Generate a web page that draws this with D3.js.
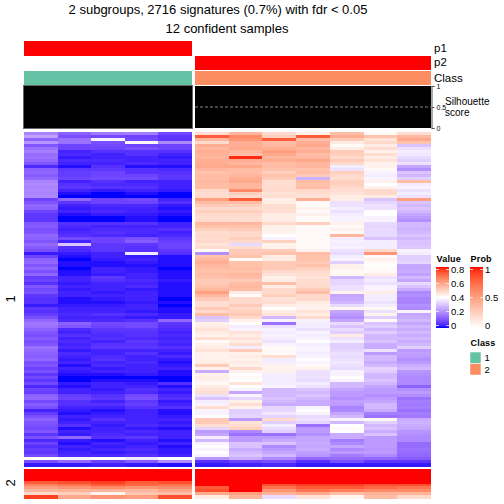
<!DOCTYPE html>
<html><head><meta charset="utf-8">
<script src="https://cdn.jsdelivr.net/npm/d3@7"></script>
<style>html,body{margin:0;padding:0;background:#fff}svg{display:block}text{font-family:"Liberation Sans",Arial,sans-serif;fill:#000}</style>
</head><body><svg id="c" width="504" height="504"></svg>
<script>
const titleLines = ["2 subgroups, 2716 signatures (0.7%) with fdr < 0.05", "12 confident samples"];
const samplesGroup1 = ["s1","s2","s3","s4","s5"];
const samplesGroup2 = ["s6","s7","s8","s9","s10","s11","s12"];
const p1Values = [1,1,1,1,1,0,0,0,0,0,0,0];
const p2Values = [0,0,0,0,0,1,1,1,1,1,1,1];
const classValues = [1,1,1,1,1,2,2,2,2,2,2,2];
const silhouetteValues = [1,1,1,1,1,1,1,1,1,1,1,1];
const silhouetteTicks = [0,0.5,1];
const valueTicks = [0,0.2,0.4,0.6,0.8];
const probTicks = [0,0.5,1];
const classColors = {1:"#66c2a5",2:"#fc8d62"};
const annotationNames = ["p1","p2","Class"];
// values ×100, one row per 3-pixel slice of the picture: five samples of group 1, seven of group 2
const cluster1Rows = [
[19,13,17,18,9,47,55,48,43,54,41,47],
[24,10,9,8,6,72,64,50,72,57,53,55],
[13,16,38,9,6,55,62,72,54,51,46,58],
[22,16,10,39,20,48,57,54,57,44,48,53],
[11,8,9,8,8,57,57,55,58,41,44,30],
[16,8,8,10,8,55,58,57,55,44,47,35],
[18,3,5,5,5,57,55,60,57,51,43,37],
[15,4,3,5,3,56,54,58,54,50,47,36],
[16,2,3,3,2,55,78,55,55,48,44,34],
[14,4,4,3,3,57,57,57,58,51,46,32],
[11,3,3,4,3,57,55,54,55,48,43,35],
[4,1,5,1,1,58,58,54,55,37,43,25],
[13,6,6,5,4,55,54,53,53,35,41,21],
[14,7,8,5,5,53,54,50,54,50,38,30],
[12,7,8,8,6,54,55,53,51,48,37,28],
[14,8,9,9,6,54,57,51,27,47,38,32],
[19,3,5,3,3,55,58,47,54,50,43,54],
[20,5,4,4,3,54,55,47,53,50,40,37],
[19,6,5,5,3,54,55,47,54,48,43,38],
[20,3,2,3,2,48,64,48,48,47,48,35],
[19,1,0,1,0,47,50,46,47,46,48,37],
[20,0,0,0,0,48,48,47,46,44,44,35],
[8,14,8,9,3,60,72,43,57,44,30,60],
[11,6,8,8,5,54,54,44,41,35,33,30],
[14,3,4,4,2,51,50,47,41,35,35,28],
[13,2,3,3,1,48,48,47,43,37,35,30],
[8,3,4,3,2,50,50,47,41,35,40,28],
[6,1,2,2,1,48,48,44,43,37,40,25],
[6,0,0,1,0,47,47,44,41,38,38,23],
[6,0,0,1,0,48,47,44,41,38,38,21],
[11,5,5,5,3,55,55,48,50,43,34,28],
[12,4,3,3,3,53,53,43,41,41,33,28],
[10,3,4,4,5,50,51,43,41,43,34,27],
[11,4,5,4,3,47,48,43,41,41,34,28],
[14,5,4,3,4,48,48,40,41,55,34,30],
[13,9,8,10,6,47,50,38,41,37,30,28],
[11,3,8,12,7,48,48,50,41,38,37,30],
[14,30,6,6,8,46,34,43,41,37,37,30],
[12,5,6,5,8,47,47,43,41,38,37,31],
[10,4,6,5,6,41,51,51,43,35,48,38],
[2,2,3,36,5,21,51,53,54,34,62,37],
[8,1,3,2,1,53,53,44,53,37,41,32],
[13,0,2,3,1,55,41,44,53,38,43,32],
[14,1,1,2,1,57,53,51,51,32,41,33],
[11,1,1,1,1,55,53,51,53,43,40,25],
[14,0,3,2,0,54,54,51,50,43,41,25],
[10,1,3,2,1,53,53,48,48,41,41,26],
[14,1,2,3,1,54,55,46,47,42,44,24],
[7,3,6,3,1,53,54,43,46,28,35,28],
[8,3,5,4,2,51,51,44,47,33,37,25],
[5,2,3,3,1,51,54,54,47,33,35,34],
[11,3,3,4,1,53,55,44,48,35,38,30],
[9,2,3,2,1,55,54,48,51,35,38,26],
[10,3,2,3,1,60,44,48,54,43,44,20],
[6,3,3,3,1,55,41,50,48,25,37,21],
[5,1,2,3,0,51,48,46,48,26,37,19],
[5,1,1,2,1,47,48,47,44,28,35,19],
[2,2,2,3,0,47,51,44,43,34,37,21],
[6,3,3,3,1,51,48,40,43,42,41,20],
[5,3,3,2,1,48,50,44,46,25,35,38],
[7,4,5,4,2,54,51,46,44,23,43,25],
[10,3,3,2,2,30,48,28,48,21,32,26],
[14,4,4,5,14,32,43,38,38,25,41,28],
[17,13,9,9,6,43,40,16,37,34,30,25],
[16,11,8,9,5,44,37,35,37,30,32,28],
[13,4,6,6,4,46,38,38,35,34,28,26],
[11,3,5,5,3,44,46,37,38,32,32,28],
[10,5,4,5,4,43,44,38,37,44,28,26],
[12,3,5,4,3,47,46,37,38,35,28,28],
[10,4,3,6,4,41,44,35,40,37,30,26],
[11,3,5,5,3,43,47,38,37,32,26,28],
[16,4,6,6,5,44,37,41,38,32,26,32],
[14,2,3,3,3,46,51,41,38,33,35,23],
[13,4,3,5,2,43,43,41,37,35,23,24],
[12,3,4,3,4,43,44,47,38,34,28,23],
[14,2,5,3,2,43,43,37,40,35,28,21],
[10,3,3,4,1,44,44,37,38,36,26,23],
[11,1,4,3,2,51,43,43,41,35,28,26],
[8,3,2,3,3,43,48,43,43,34,33,28],
[10,2,3,3,1,26,43,43,35,38,32,22],
[6,1,1,2,1,43,40,37,35,38,28,21],
[9,0,0,0,0,44,41,37,35,40,28,20],
[6,0,1,1,0,43,40,37,34,38,30,20],
[9,2,3,2,5,41,46,37,37,28,28,20],
[4,1,3,3,1,44,40,38,35,28,25,13],
[8,3,2,5,3,46,38,28,30,25,23,21],
[7,3,3,4,2,47,25,28,28,23,23,23],
[13,7,5,9,4,35,38,28,30,23,21,21],
[14,8,6,10,5,30,33,30,28,21,23,16],
[9,5,3,6,2,37,43,28,26,24,25,18],
[12,5,5,7,3,38,47,26,26,23,28,17],
[10,3,3,5,5,47,43,33,38,19,28,18],
[3,2,1,3,1,38,32,33,40,20,26,16],
[7,1,2,3,1,38,32,36,38,25,18,18],
[10,3,3,3,2,40,33,33,34,28,16,17],
[13,2,5,3,3,51,23,48,35,38,41,26],
[11,3,3,3,2,51,46,32,33,28,32,27],
[10,5,2,4,3,47,47,37,16,40,28,26],
[9,1,3,2,1,33,50,34,23,41,30,25],
[11,3,3,4,3,23,20,32,23,40,26,22],
[6,2,4,3,3,25,16,16,21,26,30,21],
[10,14,5,6,3,37,23,23,25,26,23,20],
[4,2,1,3,1,28,23,26,25,18,23,20],
[8,1,3,2,3,38,30,30,26,20,23,15],
[5,3,2,3,1,40,30,20,25,25,23,15],
[7,2,3,4,2,38,26,23,26,20,22,16],
[6,3,2,3,2,40,28,25,24,23,23,15],
[9,4,4,5,3,38,30,28,22,18,20,14],
[40,38,40,36,40,22,26,20,14,15,14,12],
[10,14,8,12,20,5,8,10,5,10,6,6],
[2,2,3,2,1,2,3,4,2,2,2,2]
];
const cluster2Rows = [
[80,80,80,80,80,80,80,80,80,80,80,80],
[80,80,80,80,80,80,80,80,80,80,80,80],
[80,80,80,80,80,80,80,80,80,80,80,80],
[80,80,80,80,80,80,80,80,80,80,80,80],
[72,74,76,72,74,80,80,80,80,80,80,80],
[66,68,72,70,68,80,80,74,76,76,74,74],
[60,62,64,62,64,72,80,68,72,72,70,68],
[55,56,56,55,58,74,80,62,68,66,64,64],
[48,50,42,52,54,58,60,56,58,54,56,56],
[76,58,62,60,74,44,56,34,46,42,54,48]
];

const svg = d3.select("#c");
const allSamples = samplesGroup1.concat(samplesGroup2);
const xGroup1 = d3.scaleBand().domain(samplesGroup1).range([24,192]);
const xGroup2 = d3.scaleBand().domain(samplesGroup2).range([195,431]);
const xOf = s => samplesGroup1.includes(s) ? xGroup1(s) : xGroup2(s);
const wOf = s => samplesGroup1.includes(s) ? xGroup1.bandwidth() : xGroup2.bandwidth();

const valueColor = d3.scaleLinear().domain([0,0.4,0.8]).range(["#0000ff","#ffffff","#ff0000"]).interpolate(d3.interpolateLab).clamp(true);
const probColor = d3.scaleLinear().domain([0,1]).range(["#ffffff","#ff0000"]).interpolate(d3.interpolateLab);

// title
const titleCentres = [218,227];
svg.selectAll("text.title").data(titleLines).join("text").attr("class","title")
  .attr("x",(d,i)=>titleCentres[i]).attr("y",(d,i)=>14+i*19).attr("text-anchor","middle")
  .attr("font-size",13).text(d=>d);

// annotation tracks
const track = (vals,y0,h,col) => svg.append("g").attr("shape-rendering","crispEdges")
  .selectAll("rect").data(allSamples).join("rect")
  .attr("x",xOf).attr("width",wOf).attr("y",y0).attr("height",h)
  .attr("fill",(s,i)=>col(vals[i]));
track(p1Values,41,15,probColor);
track(p2Values,56,14,probColor);
track(classValues,71,14,v=>classColors[v]);

// silhouette
const ySil = d3.scaleLinear().domain([0,1]).range([128,86]);
svg.append("g").attr("shape-rendering","crispEdges").selectAll("rect").data(allSamples).join("rect")
  .attr("x",xOf).attr("width",wOf).attr("y",(s,i)=>ySil(silhouetteValues[i]))
  .attr("height",(s,i)=>ySil(0)-ySil(silhouetteValues[i])).attr("fill","#000");
const g1Range = xGroup1.range();
svg.append("rect").attr("x",g1Range[0]-0.5).attr("y",85.5).attr("width",g1Range[1]-g1Range[0]+1).attr("height",43)
  .attr("fill","none").attr("stroke","#666").attr("stroke-width",1).attr("shape-rendering","crispEdges");
svg.append("line").attr("x1",195).attr("x2",431).attr("y1",ySil(0.5)).attr("y2",ySil(0.5))
  .attr("stroke","#aaa").attr("stroke-width",0.8).attr("stroke-dasharray","3 2");
const silAxis = svg.append("g").attr("transform","translate(431.5,0)")
  .call(d3.axisRight(ySil).tickValues(silhouetteTicks).tickFormat(d3.format("~g")).tickSize(3).tickPadding(2));
silAxis.select(".domain").attr("stroke","#555");
silAxis.selectAll("line").attr("stroke","#555");
silAxis.selectAll("text").attr("font-size",7).attr("font-family","Liberation Sans");

annotationNames.forEach((t,i)=>svg.append("text").attr("x",434).attr("y",[52,66,82][i]).attr("font-size",11.5).text(t));
svg.append("text").attr("x",445).attr("y",105).attr("font-size",10).text("Silhouette");
svg.append("text").attr("x",445).attr("y",116).attr("font-size",10).text("score");

// heat bodies
function heat(rows,y0,y1){
  const y = d3.scaleBand().domain(d3.range(rows.length)).range([y0,y1]);
  const g = svg.append("g").attr("shape-rendering","crispEdges");
  rows.forEach((row,ri)=>{
    g.append("g").selectAll("rect").data(row).join("rect")
      .attr("x",(v,i)=>xOf(allSamples[i])).attr("width",(v,i)=>wOf(allSamples[i]))
      .attr("y",y(ri)).attr("height",y.bandwidth()+0.5)
      .attr("fill",v=>valueColor(v/100));
  });
}
heat(cluster1Rows,132,466);
heat(cluster2Rows,469,498);

// row titles
[["1",299],["2",483]].forEach(([t,cy])=>svg.append("text").attr("transform",`translate(15,${cy}) rotate(-90)`)
  .attr("text-anchor","middle").attr("font-size",13).text(t));

// legends
const defs = svg.append("defs");
function gradient(id,color,dom){
  const g = defs.append("linearGradient").attr("id",id).attr("x1",0).attr("x2",0).attr("y1",1).attr("y2",0);
  d3.range(0,21).forEach(k=>{const t=k/20;g.append("stop").attr("offset",t).attr("stop-color",color(dom[0]+t*(dom[1]-dom[0])));});
}
gradient("gv",valueColor,[0,0.8]);
gradient("gp",probColor,[0,1]);
function barLegend(x,title,id,dom,ticks,fmt){
  svg.append("text").attr("x",x+0.5).attr("y",262).attr("font-size",9).attr("font-weight","bold").attr("letter-spacing",0.2).text(title);
  svg.append("rect").attr("x",x).attr("y",267).attr("width",13).attr("height",61).attr("fill",`url(#${id})`);
  const s = d3.scaleLinear().domain(dom).range([325.5,269.5]);
  const ax = svg.append("g").attr("transform",`translate(${x+13},0)`)
    .call(d3.axisRight(s).tickValues(ticks).tickFormat(fmt).tickSize(0).tickPadding(2));
  ax.select(".domain").remove();
  ax.selectAll("text").attr("font-size",9.5).attr("font-family","Liberation Sans");
  svg.append("g").selectAll("line").data(ticks).join("line")
    .attr("y1",d=>s(d)).attr("y2",d=>s(d)).attr("x1",x).attr("x2",x+13)
    .attr("stroke","#fff").attr("stroke-width",0.7).attr("stroke-dasharray","3 7");
}
barLegend(436,"Value","gv",[0,0.8],valueTicks,d3.format("~g"));
barLegend(470,"Prob","gp",[0,1],probTicks,d3.format("~g"));
svg.append("text").attr("x",470.5).attr("y",346).attr("font-size",9).attr("font-weight","bold").attr("letter-spacing",0.2).text("Class");
const classKeys = Object.keys(classColors);
const yKey = d3.scaleBand().domain(classKeys).range([352,375]);
svg.selectAll("rect.key").data(classKeys).join("rect").attr("class","key")
  .attr("x",470).attr("width",11).attr("y",d=>yKey(d)).attr("height",yKey.bandwidth())
  .attr("fill",d=>classColors[d]).attr("stroke","#fff").attr("stroke-width",0.5);
svg.selectAll("text.key").data(classKeys).join("text").attr("class","key")
  .attr("x",484.5).attr("y",d=>yKey(d)+yKey.bandwidth()/2+3.5).attr("font-size",9.5).text(d=>d);
</script></body></html>
